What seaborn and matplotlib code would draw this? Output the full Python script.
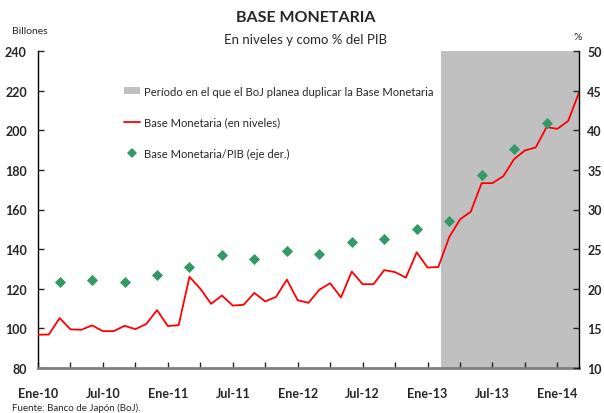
import matplotlib
matplotlib.use("Agg")
import matplotlib.pyplot as plt
import seaborn as sns
import pandas as pd
from matplotlib.patches import Patch
from matplotlib.lines import Line2D

# ---- data ----
meses = pd.date_range("2010-01-01", "2014-03-01", freq="MS")
base_monetaria = [96.8, 96.9, 105.2, 99.5, 99.3, 101.5, 98.6, 98.6, 101.3, 99.6,
                  102.2, 109.2, 101.2, 101.6, 126.0, 120.0, 112.4, 116.6, 111.5, 111.9,
                  117.9, 113.6, 115.9, 124.6, 114.2, 112.9, 119.5, 122.8, 115.6, 128.7,
                  122.3, 122.3, 129.4, 128.4, 125.6, 138.4, 130.7, 131.0, 146.0, 155.0,
                  158.9, 173.3, 173.3, 176.8, 185.4, 189.8, 191.3, 201.6, 200.7, 204.7,
                  219.0]
trimestres = pd.date_range("2010-03-01", "2013-12-01", freq="3MS")
base_pib = [20.9, 21.1, 20.9, 21.7, 22.8, 24.3, 23.8, 24.8, 24.4, 25.9,
            26.3, 27.5, 28.6, 34.3, 37.6, 40.9]
inicio_periodo = pd.Timestamp("2013-02-01")
tick_labels = ["Ene-10", "Jul-10", "Ene-11", "Jul-11", "Ene-12",
               "Jul-12", "Ene-13", "Jul-13", "Ene-14"]

pos = {d: i for i, d in enumerate(meses)}
df_lvl = pd.DataFrame({"x": range(len(meses)), "valor": base_monetaria})
df_pib = pd.DataFrame({"x": [pos[d] for d in trimestres], "valor": base_pib})

sns.set_style("white")
plt.rcParams["font.family"] = ["Lato", "DejaVu Sans"]

fig = plt.figure(figsize=(6.04, 4.14), dpi=100)
ax = fig.add_axes([38/604, 1-369/414, (579-38)/604, (369-52)/414])
ax2 = ax.twinx()

xmax = len(meses) - 1
gris = "#c0c0c0"
rojo = "#ff0000"
verde = "#339966"

ax.axvspan(pos[inicio_periodo] + 0.2, xmax, color=gris, lw=0, zorder=0)
sns.lineplot(data=df_lvl, x="x", y="valor", ax=ax, color=rojo, lw=1.3, zorder=3)
sns.scatterplot(data=df_pib, x="x", y="valor", ax=ax2, marker="D", s=32,
                color=verde, edgecolor=verde, linewidth=0, zorder=4)

ax.set_xlim(0, xmax)
ax.set_ylim(80, 240)
ax2.set_ylim(10, 50)
ax.set_yticks(range(80, 241, 20))
ax2.set_yticks(range(10, 51, 5))
ticks = list(range(0, xmax + 1, 3))
ax.set_xticks(ticks)
lbl_iter = iter(tick_labels)
ax.set_xticklabels([next(lbl_iter) if t % 6 == 0 else "" for t in ticks])

for a in (ax, ax2):
    a.set_xlabel("")
    a.set_ylabel("")
    a.spines["top"].set_visible(False)
ax.spines["left"].set_color("black")
ax.spines["left"].set_linewidth(1.0)
ax2.spines["right"].set_color("black")
ax2.spines["right"].set_linewidth(1.0)
ax2.spines["left"].set_visible(False)
ax2.spines["bottom"].set_visible(False)
ax.spines["right"].set_visible(False)
ax.spines["bottom"].set_color("#808080")
ax.spines["bottom"].set_linewidth(2.0)

ax.tick_params(axis="y", direction="in", length=4, width=1, pad=8,
               labelsize=9, left=True)
ax2.tick_params(axis="y", direction="in", length=4, width=1, pad=6,
                labelsize=9, right=True)
ax.tick_params(axis="x", direction="in", length=4, width=1, pad=14,
               labelsize=9, bottom=True)
for lab in ax.get_yticklabels() + ax2.get_yticklabels() + ax.get_xticklabels():
    lab.set_fontweight("bold")

handles = [
    Patch(facecolor=gris, edgecolor="none"),
    Line2D([], [], color=rojo, lw=1.3),
    Line2D([], [], color=verde, marker="D", ls="none", markersize=5.5,
           markeredgewidth=0),
]
labels = ["Período en el que el BoJ planea duplicar la Base Monetaria",
          "Base Monetaria (en niveles)",
          "Base Monetaria/PIB (eje der.)"]
leg = ax2.legend(handles, labels, loc="upper left",
                 bbox_to_anchor=(120/604, 1-82/414), bbox_transform=fig.transFigure,
                 frameon=False, fontsize=8.1, labelspacing=1.8,
                 handlelength=1.35, handleheight=0.6, handletextpad=0.4,
                 borderaxespad=0)

fig.text(0.507, 1-18/414, "BASE MONETARIA", ha="center", va="center",
         fontsize=11.5, fontweight="bold")
fig.text(0.505, 1-40/414, "En niveles y como % del PIB", ha="center",
         va="center", fontsize=9.5)
fig.text(12/604, 1-32/414, "Billones", ha="left", va="center", fontsize=7.5)
fig.text(578/604, 1-38/414, "%", ha="center", va="center", fontsize=7.5)
fig.text(12/604, 1-408/414, "Fuente: Banco de Japón (BoJ).", ha="left",
         va="center", fontsize=7)

fig.savefig("out.png", dpi=100)
